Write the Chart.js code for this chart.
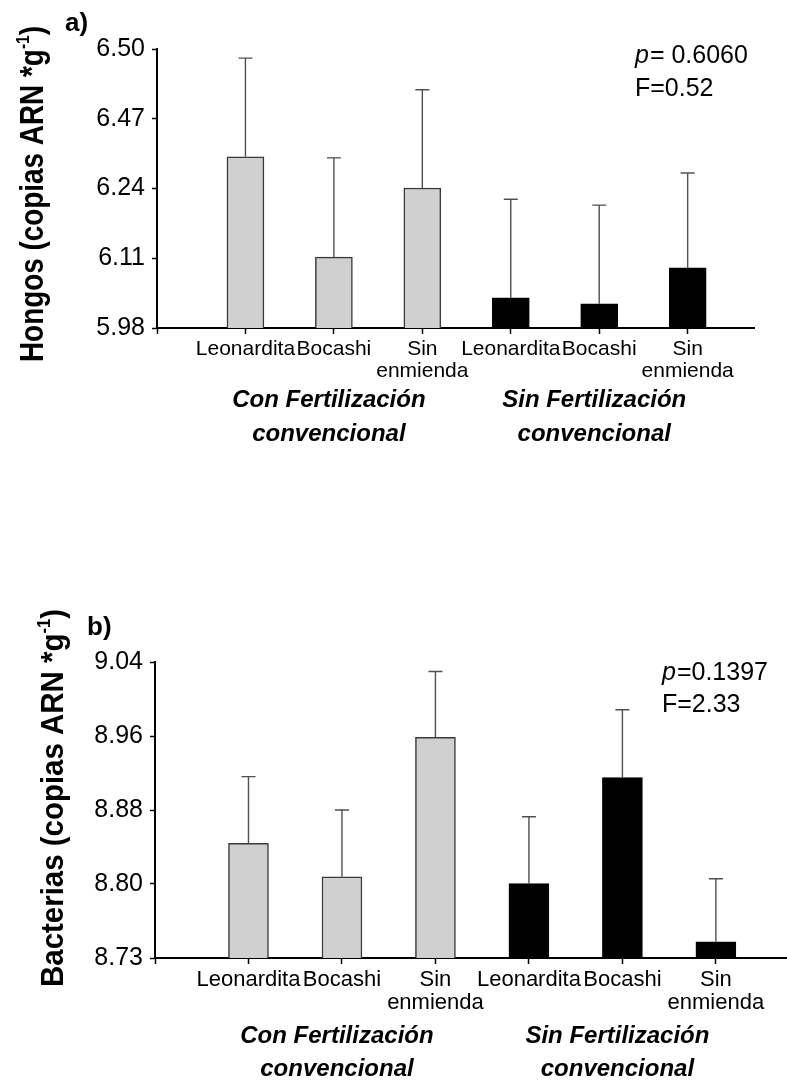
<!DOCTYPE html>
<html lang="es">
<head>
<meta charset="UTF-8">
<title>Hongos y bacterias</title>
<script src="https://cdn.jsdelivr.net/npm/chart.js"></script>
<style>
  body { margin: 0; background: #fff; }
  .panel { position: absolute; left: 0; width: 787px; }
  #panelA { top: 0; height: 480px; }
  #panelB { top: 560px; height: 521px; }
</style>
</head>
<body>
<div class="panel" id="panelA"><canvas id="hongosChart"></canvas></div>
<div class="panel" id="panelB"><canvas id="bacteriasChart"></canvas></div>

<script>
// Treatments, in plotting order (first three with fertilization, last three without)
const categories = ['Leonardita', 'Bocashi', ['Sin', 'enmienda'], 'Leonardita', 'Bocashi', ['Sin', 'enmienda']];
const groupLabels = [['Con Fertilización', 'convencional'], ['Sin Fertilización', 'convencional']];

// a) Hongos
const hongosMeans = [6.299, 6.112, 6.241, 6.036, 6.025, 6.092];
const hongosErr = [0.184, 0.185, 0.183, 0.184, 0.184, 0.177];
const hongosTicks = ['5.98', '6.11', '6.24', '6.47', '6.50'];
const hongosTitle = ['Hongos (copias ARN *g', '-1', ')'];
const hongosStats = [['p', '= 0.6060'], ['', 'F=0.52']];

// b) Bacterias
const bactMeans = [8.850, 8.815, 8.961, 8.808, 8.919, 8.747];
const bactErr = [0.070, 0.070, 0.069, 0.070, 0.071, 0.066];
const bactTicks = ['8.73', '8.80', '8.88', '8.96', '9.04'];
const bactTitle = ['Bacterias (copias ARN *g', '-1', ')'];
const bactStats = [['p', '=0.1397'], ['', 'F=2.33']];

const FONT = '"Liberation Sans", Arial, sans-serif';
Chart.defaults.font.family = FONT;
Chart.defaults.color = '#000';

// upward-only error bars with a cap
const errorBars = {
    id: 'errorBars',
    afterDatasetsDraw(chart) {
        const ctx = chart.ctx;
        const y = chart.scales.y;
        const ds = chart.data.datasets[0];
        ctx.save();
        ctx.strokeStyle = '#505050';
        ctx.lineWidth = 1.4;
        chart.getDatasetMeta(0).data.forEach((bar, i) => {
            const top = y.getPixelForValue(ds.data[i].y + ds.errors[i]);
            ctx.beginPath();
            ctx.moveTo(bar.x, bar.y);
            ctx.lineTo(bar.x, top);
            ctx.moveTo(bar.x - 7, top);
            ctx.lineTo(bar.x + 7, top);
            ctx.stroke();
        });
        ctx.restore();
    }
};

// panel letter, rotated y title with superscript, group names and test results
const panelText = {
    id: 'panelText',
    afterDraw(chart, args, o) {
        const ctx = chart.ctx;
        const area = chart.chartArea;
        const x = chart.scales.x;
        ctx.save();
        ctx.fillStyle = '#000';
        ctx.textBaseline = 'alphabetic';

        ctx.textAlign = 'left';
        ctx.font = `bold 26px ${FONT}`;
        ctx.fillText(o.letter, o.letterX, o.letterY);

        // y axis title
        ctx.save();
        const size = o.titleSize;
        const big = `bold ${size}px ${FONT}`;
        const small = `bold ${Math.round(size * 0.55)}px ${FONT}`;
        ctx.translate(o.titleX, o.titleY);
        ctx.rotate(-Math.PI / 2);
        ctx.scale(o.titleScale, 1);
        ctx.font = big;
        const w1 = ctx.measureText(o.title[0]).width;
        const w3 = ctx.measureText(o.title[2]).width;
        ctx.font = small;
        const w2 = ctx.measureText(o.title[1]).width;
        let tx = -(w1 + w2 + w3) / 2;
        ctx.font = big;
        ctx.fillText(o.title[0], tx, 0);
        tx += w1;
        ctx.font = small;
        ctx.fillText(o.title[1], tx, -size * 0.42);
        tx += w2;
        ctx.font = big;
        ctx.fillText(o.title[2], tx, 0);
        ctx.restore();

        // group names under the middle bar of each group
        ctx.textAlign = 'center';
        ctx.font = `italic bold 24px ${FONT}`;
        groupLabels.forEach((lines, g) => {
            const cx = x.getPixelForValue(2 + 3 * g) - 5;
            lines.forEach((t, k) => ctx.fillText(t, cx, area.bottom + o.groupY + k * o.groupGap));
        });

        // p and F
        ctx.textAlign = 'left';
        o.stats.forEach((parts, k) => {
            const yy = o.statsY + k * o.statsGap;
            ctx.font = `italic 25px ${FONT}`;
            ctx.fillText(parts[0], o.statsX, yy);
            const w = parts[0] ? ctx.measureText(parts[0]).width + 1 : 0;
            ctx.font = `25px ${FONT}`;
            ctx.fillText(parts[1], o.statsX + w, yy);
        });
        ctx.restore();
    }
};

function makeChart(id, means, errs, tickLabels, layout) {
    const yMin = parseFloat(tickLabels[0]);
    const yMax = parseFloat(tickLabels[tickLabels.length - 1]);
    const step = (yMax - yMin) / (tickLabels.length - 1);

    return new Chart(document.getElementById(id), {
        type: 'bar',
        data: {
            datasets: [{
                data: means.map((v, i) => ({ x: i + 1, y: v })),
                errors: errs,
                backgroundColor: means.map((v, i) => i < 3 ? '#d1d0d1' : '#000'),
                borderColor: means.map((v, i) => i < 3 ? '#3a3a3a' : '#000'),
                borderWidth: 1.5,
                barThickness: layout.barWidth
            }]
        },
        options: {
            responsive: true,
            maintainAspectRatio: false,
            animation: false,
            layout: { padding: layout.padding },
            plugins: {
                legend: { display: false },
                tooltip: { enabled: false },
                panelText: layout.text
            },
            scales: {
                x: {
                    type: 'linear',
                    min: 0,
                    max: 6.75,
                    offset: false,
                    afterBuildTicks: s => { s.ticks = [0, 1, 2, 3, 4, 5, 6].map(v => ({ value: v })); },
                    afterFit: s => { s.height = layout.xHeight; },
                    grid: { drawOnChartArea: false, drawTicks: true, tickLength: 6, tickWidth: 1.5, tickColor: '#000', offset: false },
                    border: { display: true, color: '#000', width: 2 },
                    ticks: {
                        autoSkip: false,
                        maxRotation: 0,
                        minRotation: 0,
                        padding: 4,
                        font: { size: layout.catSize, lineHeight: layout.catLH },
                        callback: v => categories[v - 1] || ''
                    }
                },
                y: {
                    min: yMin,
                    max: yMax,
                    afterBuildTicks: s => { s.ticks = tickLabels.map((t, i) => ({ value: yMin + i * step })); },
                    afterFit: s => { s.width = layout.yWidth; },
                    grid: { drawOnChartArea: false, drawTicks: true, tickLength: 5, tickWidth: 1.5, tickColor: '#000' },
                    border: { display: true, color: '#000', width: 2 },
                    ticks: {
                        padding: 7,
                        font: { size: 25 },
                        callback: (v, i) => tickLabels[i]
                    }
                }
            }
        },
        plugins: [errorBars, panelText]
    });
}

makeChart('hongosChart', hongosMeans, hongosErr, hongosTicks, {
    padding: { top: 49, right: 33, left: 0, bottom: 0 },
    xHeight: 152, yWidth: 157, barWidth: 37, catSize: 21, catLH: 1.05,
    text: {
        letter: 'a)', letterX: 65, letterY: 31,
        title: hongosTitle, titleSize: 34, titleScale: 0.82, titleX: 43, titleY: 194,
        groupY: 79, groupGap: 34,
        stats: hongosStats, statsX: 635, statsY: 63, statsGap: 33
    }
});

makeChart('bacteriasChart', bactMeans, bactErr, bactTicks, {
    padding: { top: 102, right: 1, left: 0, bottom: 0 },
    xHeight: 123, yWidth: 155, barWidth: 40, catSize: 22, catLH: 1.05,
    text: {
        letter: 'b)', letterX: 87, letterY: 75,
        title: bactTitle, titleSize: 32, titleScale: 0.92, titleX: 63, titleY: 238,
        groupY: 85, groupGap: 33,
        stats: bactStats, statsX: 662, statsY: 120, statsGap: 32
    }
});
</script>
</body>
</html>
